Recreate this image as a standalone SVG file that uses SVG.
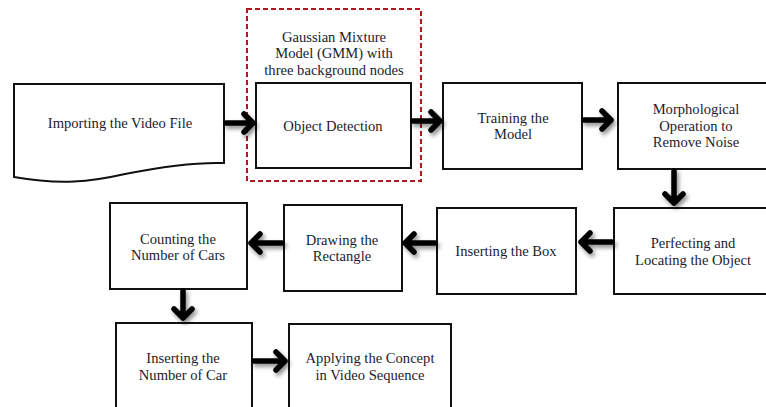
<svg xmlns="http://www.w3.org/2000/svg" width="766" height="407" viewBox="0 0 766 407">
<defs>
<style>
.box{fill:#fff;stroke:#111;stroke-width:2}
.t{font-family:"Liberation Serif","Times New Roman",serif;font-size:14.6px;fill:#1c1c30;text-anchor:middle}
.arr{fill:none;stroke:#000;stroke-width:5.5;stroke-linecap:round;stroke-linejoin:round}
.dash{fill:none;stroke:#b3171e;stroke-width:2;stroke-dasharray:5 3}
</style>
<filter id="sh" x="-30%" y="-30%" width="160%" height="160%">
<feDropShadow dx="2" dy="3" stdDeviation="2" flood-color="#000" flood-opacity="0.45"/>
</filter>
</defs>
<rect width="766" height="407" fill="#fff"/>

<g id="gmm">
<rect class="dash" x="247" y="9" width="174" height="172"/>
<text class="t" x="334" y="42">Gaussian Mixture</text>
<text class="t" x="334" y="58">Model (GMM) with</text>
<text class="t" x="334" y="75">three background nodes</text>
</g>

<g id="import">
<path class="box" d="M14,84 H224 V163 C195,162 165,166 125,174 C90,182 60,185 14,177 Z"/>
<text class="t" x="120" y="128">Importing the Video File</text>
</g>

<g id="objdet">
<rect class="box" x="256" y="83" width="155" height="85"/>
<text class="t" x="333" y="131">Object Detection</text>
</g>

<g id="train">
<rect class="box" x="443" y="83" width="139" height="86"/>
<text class="t" x="513" y="123">Training the</text>
<text class="t" x="513" y="139">Model</text>
</g>

<g id="morph">
<rect class="box" x="618" y="83" width="152" height="86"/>
<text class="t" x="696" y="114">Morphological</text>
<text class="t" x="696" y="131">Operation to</text>
<text class="t" x="696" y="147">Remove Noise</text>
</g>

<g id="perfect">
<rect class="box" x="614" y="208" width="156" height="86"/>
<text class="t" x="693" y="248">Perfecting and</text>
<text class="t" x="693" y="265">Locating the Object</text>
</g>

<g id="insbox">
<rect class="box" x="437" y="208" width="139" height="86"/>
<text class="t" x="506" y="256">Inserting the Box</text>
</g>

<g id="drawrect">
<rect class="box" x="284" y="205" width="118" height="86"/>
<text class="t" x="342" y="245">Drawing the</text>
<text class="t" x="342" y="261">Rectangle</text>
</g>

<g id="count">
<rect class="box" x="110" y="203" width="137" height="86"/>
<text class="t" x="178" y="244">Counting the</text>
<text class="t" x="178" y="260">Number of Cars</text>
</g>

<g id="insnum">
<rect class="box" x="116" y="323" width="136" height="90"/>
<text class="t" x="183" y="363">Inserting the</text>
<text class="t" x="183" y="380">Number of Car</text>
</g>

<g id="apply">
<rect class="box" x="289" y="324" width="162" height="90"/>
<text class="t" x="370" y="363">Applying the Concept</text>
<text class="t" x="370" y="380">in Video Sequence</text>
</g>

<g id="connectors" filter="url(#sh)">
<path class="arr" d="M226,123 H253 M244,114 L253,123 L244,132"/>
<path class="arr" d="M413,121 H440 M431,112 L440,121 L431,130"/>
<path class="arr" d="M584,120 H611 M602,111 L611,120 L602,129"/>
<path class="arr" d="M674,171 V203 M665,194 L674,203 L683,194"/>
<path class="arr" d="M612,242 H581 M590,233 L581,242 L590,251"/>
<path class="arr" d="M435,243 H405 M414,234 L405,243 L414,252"/>
<path class="arr" d="M282,243 H251 M260,234 L251,243 L260,252"/>
<path class="arr" d="M183,291 V318 M174,309 L183,318 L192,309"/>
<path class="arr" d="M254,361 H285 M276,352 L285,361 L276,370"/>
</g>
</svg>
